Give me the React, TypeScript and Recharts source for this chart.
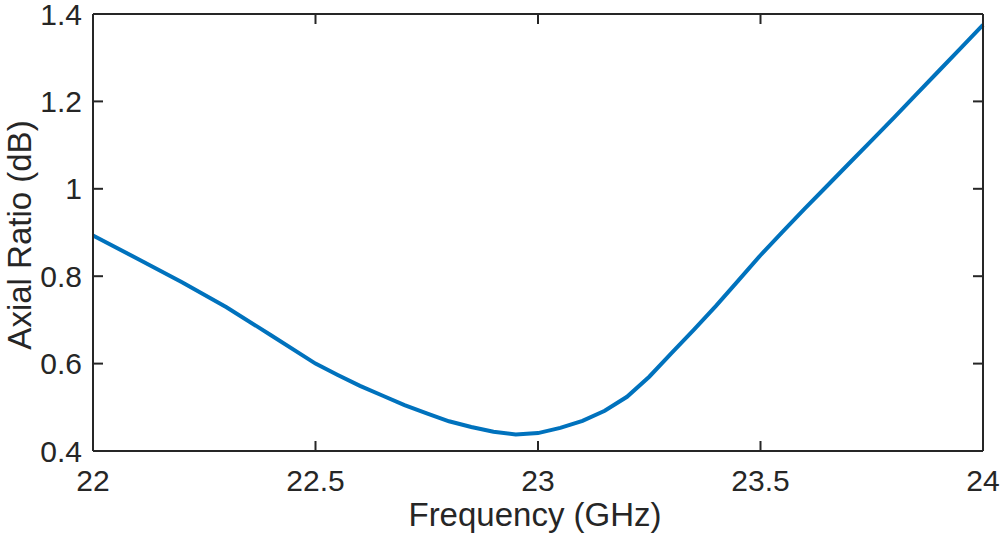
import React from 'react';
import { LineChart, Line, XAxis, YAxis, ReferenceLine } from 'recharts';

const frequencyGHz = [
  22.0, 22.1, 22.2, 22.3, 22.4, 22.5, 22.55, 22.6, 22.65, 22.7, 22.75, 22.8,
  22.85, 22.9, 22.95, 23.0, 23.05, 23.1, 23.15, 23.2, 23.25, 23.3, 23.35,
  23.4, 23.45, 23.5, 23.55, 23.6, 23.65, 23.7, 23.75, 23.8, 23.85, 23.9,
  23.95, 24.0,
];

const axialRatioDb = [
  0.893, 0.840, 0.786, 0.729, 0.665, 0.600, 0.574, 0.549, 0.527, 0.505, 0.486, 0.468,
  0.455, 0.444, 0.438, 0.441, 0.453, 0.469, 0.492, 0.524, 0.570, 0.624, 0.677,
  0.732, 0.790, 0.848, 0.902, 0.955, 1.007, 1.059, 1.111, 1.163, 1.216, 1.269,
  1.322, 1.375,
];

const xTicks = [22, 22.5, 23, 23.5, 24];
const yTicks = [0.4, 0.6, 0.8, 1, 1.2, 1.4];

const X_MIN = 22;
const X_MAX = 24;
const Y_MIN = 0.4;
const Y_MAX = 1.4;
// inward tick lengths in data units (about 10 px)
const X_TICK_LEN = 0.0225;
const Y_TICK_LEN = 0.0229;

const data = frequencyGHz.map((f, i) => ({ f, ar: axialRatioDb[i] }));

const AXIS = '#262626';
const FONT = '"Liberation Sans", Arial, Helvetica, sans-serif';

const YTitle = () => (
  <text
    transform="rotate(-90)"
    x={-235}
    y={31}
    textAnchor="middle"
    fill={AXIS}
    fontSize={33}
    fontFamily={FONT}
  >
    Axial Ratio (dB)
  </text>
);

const XTitle = () => (
  <text x={535} y={526} textAnchor="middle" fill={AXIS} fontSize={33} fontFamily={FONT}>
    Frequency (GHz)
  </text>
);

export default function App() {
  const tickStyle = { fill: AXIS, fontSize: 30, fontFamily: FONT };
  const lineStyle = { stroke: AXIS, strokeWidth: 2 };
  const tickSegs: { key: string; seg: { x: number; y: number }[] }[] = [];
  xTicks.forEach((t) => {
    tickSegs.push({ key: `xb${t}`, seg: [{ x: t, y: Y_MIN }, { x: t, y: Y_MIN + Y_TICK_LEN }] });
    tickSegs.push({ key: `xt${t}`, seg: [{ x: t, y: Y_MAX }, { x: t, y: Y_MAX - Y_TICK_LEN }] });
  });
  yTicks.forEach((t) => {
    tickSegs.push({ key: `yl${t}`, seg: [{ x: X_MIN, y: t }, { x: X_MIN + X_TICK_LEN, y: t }] });
    tickSegs.push({ key: `yr${t}`, seg: [{ x: X_MAX, y: t }, { x: X_MAX - X_TICK_LEN, y: t }] });
  });
  return (
    <div style={{ position: 'absolute', left: 0, top: 0, width: 1000, height: 543, background: '#fff' }}>
      <LineChart width={1000} height={543} data={data} margin={{ top: 0, right: 0, bottom: 0, left: 0 }}>
        <XAxis
          xAxisId="b"
          dataKey="f"
          type="number"
          domain={[X_MIN, X_MAX]}
          ticks={xTicks}
          interval={0}
          orientation="bottom"
          height={92}
          tickSize={0}
          tickMargin={19}
          tick={tickStyle}
          axisLine={lineStyle}
          tickLine={false}
          tickFormatter={(v: number) => String(v)}
          label={<XTitle />}
        />
        <XAxis
          xAxisId="t"
          dataKey="f"
          type="number"
          domain={[X_MIN, X_MAX]}
          ticks={xTicks}
          interval={0}
          orientation="top"
          height={14}
          tickSize={0}
          tick={false}
          axisLine={lineStyle}
          tickLine={false}
        />
        <YAxis
          yAxisId="l"
          type="number"
          domain={[Y_MIN, Y_MAX]}
          ticks={yTicks}
          interval={0}
          orientation="left"
          width={93}
          tickSize={0}
          tickMargin={11}
          tick={tickStyle}
          axisLine={lineStyle}
          tickLine={false}
          tickFormatter={(v: number) => String(v)}
          label={<YTitle />}
        />
        <YAxis
          yAxisId="r"
          type="number"
          domain={[Y_MIN, Y_MAX]}
          ticks={yTicks}
          interval={0}
          orientation="right"
          width={17}
          tickSize={0}
          tick={false}
          axisLine={lineStyle}
          tickLine={false}
        />
        {tickSegs.map((s) => (
          <ReferenceLine
            key={s.key}
            xAxisId="b"
            yAxisId="l"
            segment={s.seg}
            stroke={AXIS}
            strokeWidth={2}
            ifOverflow="visible"
          />
        ))}
        <Line
          xAxisId="b"
          yAxisId="l"
          dataKey="ar"
          type="linear"
          stroke="#0072BD"
          strokeWidth={4}
          dot={false}
          isAnimationActive={false}
        />
      </LineChart>
    </div>
  );
}
